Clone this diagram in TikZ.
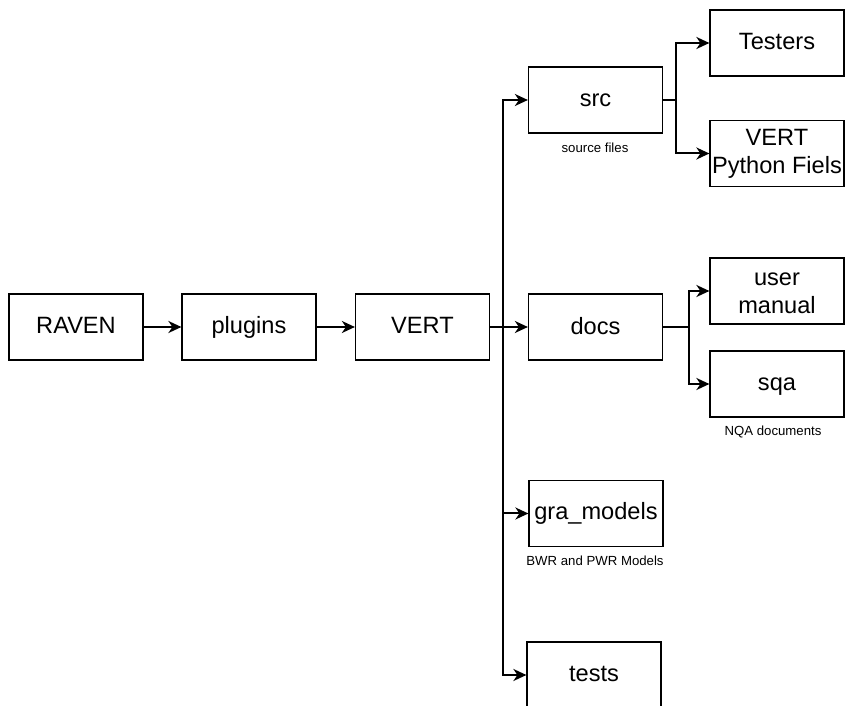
\documentclass[tikz,border=0pt]{standalone}
\usepackage{fontspec}
\setmainfont{Liberation Sans}
\usepackage{tikz}
\usetikzlibrary{positioning}
\usetikzlibrary{arrows.meta,calc}
\newcommand{\boxstrut}{\rule[-1.5pt]{0pt}{10pt}}
\tikzstyle{folder}=[draw=black,line width=0.6pt,minimum width=67pt,minimum height=33pt,inner sep=0pt,align=center,font=\fontsize{11.8}{14}\selectfont]
\tikzstyle{edge} = [draw,line width=1pt,-{Stealth[length=6.5pt,width=6pt,inset=2pt]}]
\tikzstyle{undirectededge} = [draw,line width=1pt]
\tikzstyle{note} = [font=\fontsize{6.6}{8}\selectfont]

\begin{document}
\begin{tikzpicture}[x=0.5pt,y=-0.5pt]
    \clip (0,0) rectangle (848,706);

    % First we draw the folders
    \foreach \pos/\name/\label in {{(76,327)/raven/RAVEN}, {(249,327)/plugins/plugins}, {(422.5,327)/vert/VERT}, {(595.5,100)/src/src}, {(595.5,327)/docs/docs}, {(596,513.5)/gra/gra\_models}, {(594,675)/tests/tests}, {(777,43)/testers/Testers}, {(777,153.5)/pyfiles/{VERT\\Python Fiels}}, {(777,291)/manual/{user\\manual}}, {(777,384)/sqa/sqa}}
        \node[folder] (\name) at \pos {\boxstrut\label};

    % Notes under some folders
    \node[note] (srcnote) at (595,148) {source files};
    \node[note] (sqanote) at (773,432) {NQA documents};
    \node[note] (granote) at (595,561) {BWR and PWR Models};

    % Branch points
    \coordinate (trunk) at (503,327);
    \coordinate (srcfork) at (676,100);
    \coordinate (docsfork) at (689,327);

    % Connect folders
    \foreach \source/ \dest in {raven/plugins, plugins/vert, vert/docs}
          \path[edge] (\source) -- (\dest);
    \foreach \dest in {src, gra, tests}
          \path[edge] (trunk) |- (\dest);
    \path[undirectededge] (src) -- (srcfork);
    \path[undirectededge] (docs) -- (docsfork);
    \foreach \dest in {testers, pyfiles}
          \path[edge] (srcfork) |- (\dest);
    \foreach \dest in {manual, sqa}
          \path[edge] (docsfork) |- (\dest);

\end{tikzpicture}
\end{document}
